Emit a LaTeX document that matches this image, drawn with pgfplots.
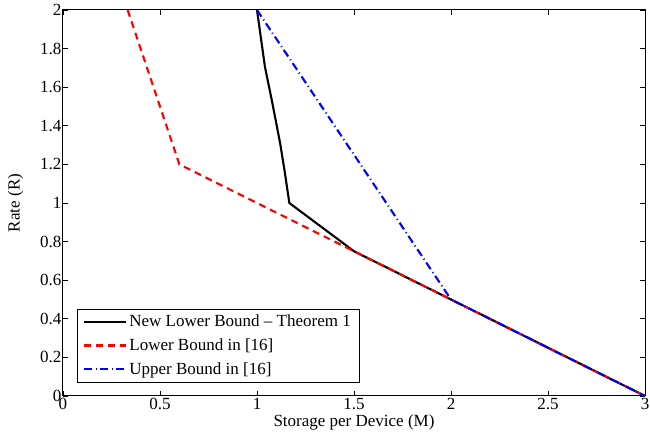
\documentclass[border=0pt]{standalone}
\usepackage{fontspec}
\setmainfont{Liberation Serif}
\usepackage{pgfplots}
\pgfplotsset{compat=1.18}

\begin{document}
\begin{tikzpicture}
\begin{axis}[
    scale only axis,
    width=582pt, height=386pt,
    xmin=0, xmax=3, ymin=0, ymax=2,
    xtick distance=0.5, ytick distance=0.2,
    tick align=inside,
    xtick pos=both, ytick pos=both,
    major tick length=5pt,
    tick style={black, line width=0.7pt},
    axis line style={line width=1pt},
    /pgf/number format/assume math mode=true,
    /pgf/number format/fixed,
    /pgf/number format/precision=1,
    tick label style={font=\fontsize{17}{19}\selectfont},
    label style={font=\fontsize{17}{19}\selectfont},
    xticklabel style={yshift=1pt},
    yticklabel style={xshift=2pt},
    xlabel={Storage per Device (M)},
    ylabel={Rate (R)},
    xlabel style={yshift=2.5pt},
    ylabel style={yshift=10pt},
    legend style={
        at={(0.024,0.036)}, anchor=south west,
        font=\fontsize{17}{19}\selectfont,
        row sep=6.5pt, inner xsep=6pt, inner ysep=4pt,
        cells={anchor=west},
    },
    legend cell align=left,
    legend image code/.code={
        \draw[#1] (0cm,0cm) -- (1.48cm,0cm);
    },
]
\addplot[black, line width=2.1pt] coordinates {
    (1.0,2.0) (1.041,1.705) (1.076,1.534) (1.119,1.311)
    (1.144,1.155) (1.1667,1.0) (1.5,0.75) (3,0)
};
\addlegendentry{New Lower Bound -- Theorem 1}
\addplot[red, line width=2.1pt, dash pattern=on 7pt off 5pt] coordinates {
    (0.3333,2.0) (0.6,1.2) (1.5,0.75) (3,0)
};
\addlegendentry{Lower Bound in [16]}
\addplot[blue, line width=2.1pt, dash pattern=on 8pt off 3.5pt on 1pt off 3.5pt] coordinates {
    (1.0,2.0) (2.0,0.5) (3,0)
};
\addlegendentry{Upper Bound in [16]}
\end{axis}
\pgfresetboundingbox
\path[use as bounding box]
    ([shift={(-63pt,-47pt)}]current axis.south west)
    rectangle ([shift={(5pt,10pt)}]current axis.north east);
\end{tikzpicture}
\end{document}
